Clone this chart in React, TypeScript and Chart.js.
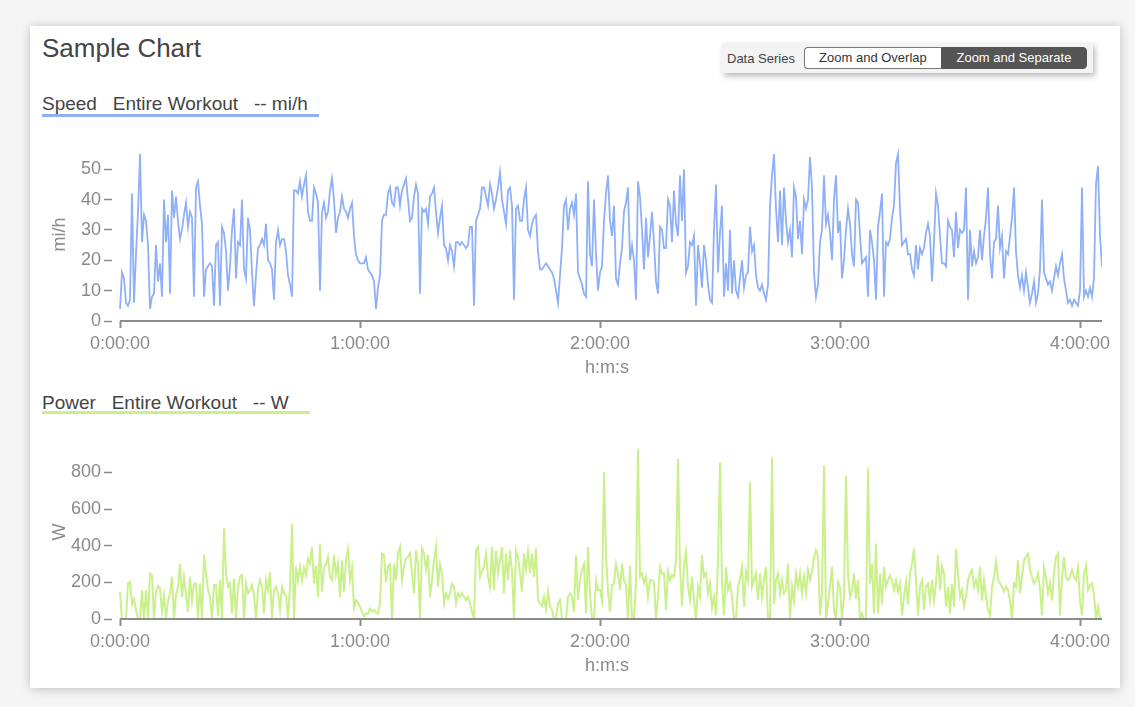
import React, { useEffect, useRef } from 'react';
import { Chart, registerables } from 'chart.js';
Chart.register(...registerables);

Chart.defaults.font.family = "'Liberation Sans', Arial, Helvetica, sans-serif";

// one sample every 30 s
const SAMPLE_SECONDS = 30;
const X_MAX = 14730;
const HOUR_TICKS = [0, 3600, 7200, 10800, 14400];
const SPEED_TICKS = [0, 10, 20, 30, 40, 50];
const POWER_TICKS = [0, 200, 400, 600, 800];

const SPEED = [
	4, 16, 14, 6, 5, 7, 42, 6, 22, 36, 55, 26, 35, 33, 25, 4, 8, 9, 25, 13,
	19, 8, 40, 26, 35, 9, 43, 34, 41, 33, 27, 30, 35, 39, 31, 36, 34, 8, 44, 46,
	38, 32, 8, 17, 18, 19, 18, 5, 25, 26, 5, 31, 29, 23, 10, 18, 30, 37, 14, 26,
	25, 40, 17, 14, 34, 30, 16, 5, 15, 24, 25, 27, 25, 32, 20, 19, 17, 7, 26, 30,
	25, 27, 27, 23, 15, 12, 8, 43, 43, 42, 46, 41, 45, 48, 36, 33, 33, 44, 42, 39,
	10, 36, 39, 34, 36, 43, 47, 40, 29, 34, 36, 41, 37, 36, 34, 37, 39, 28, 22, 20,
	// 1:00:00
	19, 19, 19, 21, 17, 16, 15, 13, 4, 11, 15, 33, 35, 35, 42, 44, 39, 38, 44, 44,
	38, 43, 45, 47, 40, 33, 34, 41, 45, 42, 9, 37, 36, 37, 32, 41, 42, 44, 36, 29,
	34, 38, 25, 24, 20, 25, 23, 18, 26, 26, 25, 26, 25, 24, 25, 31, 31, 5, 33, 35,
	37, 44, 44, 41, 38, 45, 42, 37, 40, 44, 49, 40, 36, 32, 43, 44, 38, 7, 37, 38,
	33, 33, 40, 44, 30, 28, 32, 34, 35, 23, 17, 17, 18, 19, 18, 17, 16, 14, 10, 6,
	15, 24, 38, 40, 30, 37, 39, 35, 42, 16, 14, 12, 9, 8, 46, 22, 18, 40, 22, 10,
	// 2:00:00
	16, 18, 33, 42, 48, 33, 28, 38, 14, 12, 19, 24, 36, 39, 44, 20, 25, 20, 7, 46,
	41, 30, 17, 34, 21, 28, 36, 26, 13, 9, 31, 30, 24, 24, 40, 38, 26, 43, 32, 28,
	48, 33, 50, 16, 18, 26, 25, 28, 5, 25, 19, 11, 25, 20, 12, 7, 6, 30, 45, 16,
	29, 38, 8, 19, 10, 30, 9, 20, 10, 8, 14, 20, 11, 15, 16, 31, 23, 25, 15, 11,
	10, 12, 9, 7, 12, 38, 48, 55, 37, 26, 43, 25, 44, 33, 26, 30, 21, 44, 41, 27,
	33, 22, 40, 37, 40, 54, 44, 16, 8, 12, 26, 30, 48, 32, 35, 29, 20, 40, 48, 29,
	// 3:00:00
	33, 14, 20, 30, 37, 32, 22, 18, 40, 39, 28, 19, 20, 21, 8, 30, 26, 20, 7, 31,
	36, 42, 8, 26, 25, 27, 34, 38, 52, 55, 37, 25, 26, 27, 22, 22, 17, 15, 25, 17,
	24, 22, 24, 29, 32, 28, 13, 26, 42, 38, 28, 19, 19, 18, 33, 31, 30, 21, 36, 24,
	30, 29, 30, 44, 7, 30, 18, 23, 19, 21, 30, 20, 28, 34, 44, 22, 14, 26, 27, 38,
	24, 28, 14, 23, 22, 28, 34, 44, 23, 15, 11, 15, 10, 16, 11, 6, 9, 13, 6, 9,
	17, 40, 16, 14, 12, 13, 10, 14, 18, 15, 19, 22, 14, 10, 6, 7, 5, 7, 6, 5,
	10, 44, 8, 10, 8, 11, 8, 14, 45, 51, 28, 18,
];

const POWER = [
	149, 0, 0, 0, 194, 203, 80, 110, 50, 0, 0, 158, 0, 158, 0, 248, 240, 0, 150, 180,
	167, 40, 130, 0, 100, 140, 230, 0, 130, 176, 300, 120, 230, 140, 40, 230, 100, 190, 194, 0,
	194, 0, 350, 250, 158, 121, 0, 185, 185, 20, 212, 0, 495, 250, 176, 194, 30, 220, 0, 176,
	230, 240, 0, 194, 140, 158, 185, 130, 0, 158, 212, 176, 30, 212, 158, 258, 0, 158, 176, 140,
	50, 176, 140, 130, 0, 176, 520, 0, 286, 210, 286, 212, 280, 240, 330, 303, 393, 194, 290, 120,
	412, 150, 280, 300, 340, 230, 212, 350, 240, 300, 121, 320, 150, 320, 380, 212, 280, 60, 103, 90,
	// 1:00:00
	67, 40, 15, 30, 30, 58, 40, 50, 35, 30, 85, 357, 348, 200, 290, 300, 0, 303, 212, 360,
	393, 212, 285, 330, 340, 360, 250, 140, 375, 300, 0, 385, 357, 270, 350, 121, 212, 321, 393, 176,
	300, 250, 85, 140, 110, 140, 194, 176, 85, 140, 121, 140, 121, 103, 121, 85, 40, 0, 375, 393,
	230, 260, 285, 357, 230, 176, 393, 158, 375, 250, 321, 393, 140, 357, 212, 375, 260, 0, 375, 340,
	250, 149, 357, 270, 366, 250, 357, 230, 385, 103, 85, 70, 121, 50, 149, 67, 50, 0, 0, 85,
	103, 0, 0, 0, 121, 140, 121, 40, 348, 103, 212, 270, 300, 31, 393, 140, 0, 0, 212, 158,
	// 2:00:00
	158, 100, 802, 348, 150, 40, 185, 194, 300, 248, 160, 303, 212, 185, 0, 290, 0, 0, 200, 929,
	230, 248, 194, 230, 120, 212, 212, 200, 0, 120, 285, 248, 250, 50, 260, 212, 240, 230, 321, 874,
	285, 70, 294, 366, 176, 103, 230, 100, 0, 176, 121, 348, 230, 250, 140, 194, 60, 121, 20, 321,
	856, 194, 20, 285, 158, 194, 121, 0, 0, 176, 220, 285, 67, 260, 212, 747, 176, 212, 248, 103,
	248, 120, 212, 285, 0, 0, 883, 80, 212, 248, 140, 212, 140, 158, 303, 0, 176, 100, 248, 176,
	248, 140, 230, 140, 267, 212, 258, 330, 375, 339, 20, 140, 838, 0, 85, 176, 285, 50, 0, 203,
	// 3:00:00
	176, 0, 121, 780, 250, 121, 158, 250, 110, 212, 0, 30, 0, 0, 820, 194, 300, 30, 412, 30,
	248, 80, 285, 176, 212, 240, 212, 158, 212, 150, 194, 20, 121, 203, 80, 248, 303, 384, 212, 20,
	176, 212, 50, 176, 194, 100, 212, 100, 194, 348, 158, 290, 248, 67, 176, 30, 194, 67, 384, 248,
	121, 158, 67, 121, 212, 248, 267, 176, 212, 158, 285, 100, 212, 121, 50, 20, 176, 230, 312, 212,
	194, 176, 150, 176, 158, 100, 0, 194, 176, 321, 140, 230, 321, 339, 357, 270, 230, 194, 212, 248,
	170, 20, 280, 230, 140, 194, 100, 248, 339, 357, 20, 230, 339, 230, 212, 230, 270, 230, 212, 280,
	100, 20, 248, 294, 158, 185, 194, 130, 0, 67, 0, 0,
];

const SPEED_COLOR = '#8fb0f6';
const POWER_COLOR = '#caf08c';
const AXIS_COLOR = '#8c8c8c';
const TEXT_COLOR = '#8a8a8a';
const DARK_TEXT = '#444';

const hms = (sec: number) => {
	const h = Math.floor(sec / 3600);
	const m = Math.floor((sec % 3600) / 60);
	const s = Math.floor(sec % 60);
	return `${h}:${String(m).padStart(2, '0')}:${String(s).padStart(2, '0')}`;
};

// x axis line starts at 0:00:00, not at the chart area edge
const baseline = {
	id: 'baseline',
	afterDatasetsDraw(chart: any) {
		const { ctx, chartArea, scales } = chart;
		const x0 = scales.x.getPixelForValue(0);
		ctx.save();
		ctx.strokeStyle = AXIS_COLOR;
		ctx.lineWidth = 2;
		ctx.beginPath();
		ctx.moveTo(x0, chartArea.bottom);
		ctx.lineTo(chartArea.right, chartArea.bottom);
		ctx.stroke();
		ctx.restore();
	},
};

type SeriesProps = {
	values: number[];
	color: string;
	lineWidth: number;
	yMax: number;
	yTicks: number[];
	yTitle: string;
	top: number;
	height: number;
};

const SeriesChart = ({ values, color, lineWidth, yMax, yTicks, yTitle, top, height }: SeriesProps) => {
	const ref = useRef<HTMLCanvasElement>(null);

	useEffect(() => {
		if (!ref.current) return;
		const chart = new Chart(ref.current, {
			type: 'line',
			data: {
				datasets: [
					{
						data: values.map((v, i) => ({ x: i * SAMPLE_SECONDS, y: v })),
						borderColor: color,
						borderWidth: lineWidth,
						pointRadius: 0,
						tension: 0,
						fill: false,
					},
				],
			},
			options: {
				responsive: true,
				maintainAspectRatio: false,
				animation: false,
				layout: { padding: { top: 8, right: 14, bottom: 0, left: 0 } },
				plugins: { legend: { display: false }, tooltip: { enabled: false } },
				scales: {
					x: {
						type: 'linear',
						min: -120,
						max: X_MAX,
						afterBuildTicks: (s: any) => {
							s.ticks = HOUR_TICKS.map((v) => ({ value: v }));
						},
						afterFit: (s: any) => {
							s.height = 59;
						},
						border: { display: false },
						grid: { drawOnChartArea: false, drawTicks: true, tickLength: 7, tickWidth: 2, tickColor: AXIS_COLOR },
						ticks: {
							color: TEXT_COLOR,
							font: { size: 18 },
							padding: 5,
							maxRotation: 0,
							autoSkip: false,
							callback: (v: any) => hms(Number(v)),
						},
						title: { display: true, text: 'h:m:s', color: TEXT_COLOR, font: { size: 18 }, padding: { top: 0, bottom: 1 } },
					},
					y: {
						min: 0,
						max: yMax,
						afterBuildTicks: (s: any) => {
							s.ticks = yTicks.map((v) => ({ value: v }));
						},
						afterFit: (s: any) => {
							s.width = 72;
							s.paddingTop = 0;
							s.paddingBottom = 0;
						},
						border: { display: false },
						grid: { drawOnChartArea: false, drawTicks: true, tickLength: 8, tickWidth: 1.5, tickColor: AXIS_COLOR },
						ticks: { color: TEXT_COLOR, font: { size: 18 }, padding: 3 },
						title: { display: true, text: yTitle, color: TEXT_COLOR, font: { size: 18 }, padding: { top: 9, bottom: 0 } },
					},
				},
			},
			plugins: [baseline],
		});
		return () => chart.destroy();
		// eslint-disable-next-line
	}, []);

	return (
		<div style={{ position: 'absolute', left: 40, top, width: 1076, height }}>
			<canvas ref={ref}></canvas>
		</div>
	);
};

const btn = {
	boxSizing: 'border-box' as const,
	height: 22,
	lineHeight: '20px',
	fontSize: 13,
	textAlign: 'center' as const,
};

const App = () => {
	return (
		<div
			style={{
				position: 'fixed',
				inset: 0,
				background: '#f5f5f5',
				fontFamily: "'Liberation Sans', Arial, Helvetica, sans-serif",
			}}
		>
			<div
				style={{
					position: 'absolute',
					left: 30,
					top: 26,
					width: 1090,
					height: 662,
					background: '#fff',
					boxShadow: '0 1px 10px rgba(0,0,0,0.22)',
				}}
			></div>

			<div style={{ position: 'absolute', left: 42, top: 33, fontSize: 26, lineHeight: '30px', color: DARK_TEXT }}>
				Sample Chart
			</div>

			<div
				style={{
					position: 'absolute',
					left: 722,
					top: 43,
					height: 30,
					boxSizing: 'border-box',
					padding: '0 6px 0 5px',
					display: 'flex',
					alignItems: 'center',
					background: '#f3f3f3',
					boxShadow: '2px 3px 6px rgba(0,0,0,0.28)',
				}}
			>
				<span style={{ fontSize: 13, color: DARK_TEXT, marginRight: 9 }}>Data Series</span>
				<div
					style={{
						...btn,
						width: 137,
						background: '#fff',
						color: '#333',
						border: '1px solid #777',
						borderRight: 'none',
						borderRadius: '4px 0 0 4px',
					}}
				>
					Zoom and Overlap
				</div>
				<div
					style={{
						...btn,
						width: 146,
						background: '#555',
						color: '#fff',
						border: '1px solid #555',
						borderRadius: '0 4px 4px 0',
					}}
				>
					Zoom and Separate
				</div>
			</div>

			<div style={{ position: 'absolute', left: 42, top: 93, fontSize: 19, lineHeight: '22px', whiteSpace: 'pre', color: DARK_TEXT }}>
				{'Speed   Entire Workout   -- mi/h'}
			</div>
			<div style={{ position: 'absolute', left: 42, top: 114, width: 277, height: 3, background: SPEED_COLOR }}></div>

			<SeriesChart values={SPEED} color={SPEED_COLOR} lineWidth={1.8} yMax={57} yTicks={SPEED_TICKS} yTitle='mi/h' top={140} height={240} />

			<div style={{ position: 'absolute', left: 42, top: 392, fontSize: 19, lineHeight: '22px', whiteSpace: 'pre', color: DARK_TEXT }}>
				{'Power   Entire Workout   -- W'}
			</div>
			<div style={{ position: 'absolute', left: 42, top: 411, width: 268, height: 3, background: POWER_COLOR }}></div>

			<SeriesChart values={POWER} color={POWER_COLOR} lineWidth={2} yMax={950} yTicks={POWER_TICKS} yTitle='W' top={437} height={241} />
		</div>
	);
};

export default App;
